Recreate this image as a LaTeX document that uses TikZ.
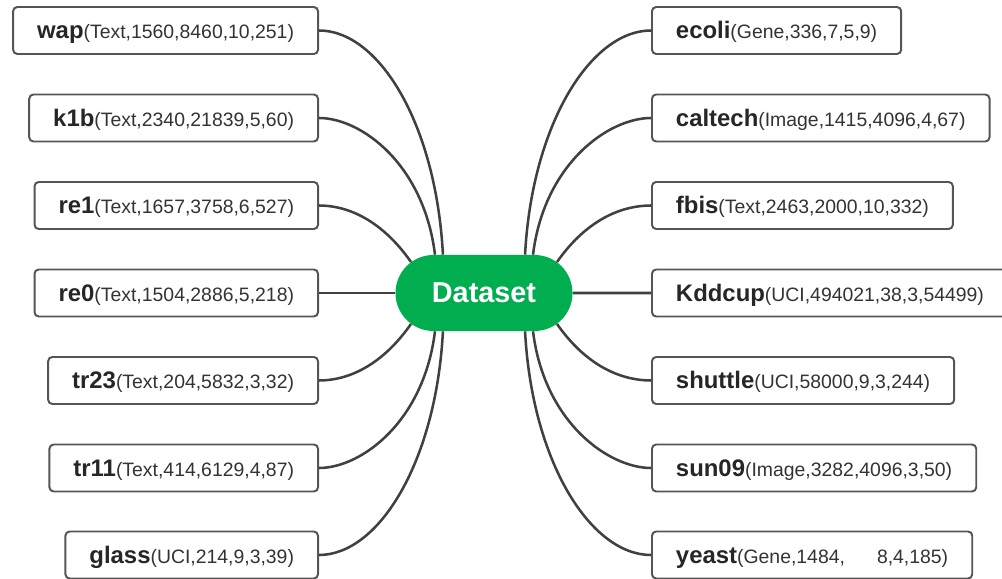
\documentclass[tikz,border=0pt]{standalone}
\usepackage{fontspec}
\setmainfont{Liberation Sans}
\usepackage{tikz}
\usetikzlibrary{shapes.misc, positioning}
\definecolor{dsgreen}{HTML}{00AD4F}
\definecolor{boxgray}{HTML}{555555}
\definecolor{linkgray}{HTML}{404040}
\definecolor{namedark}{HTML}{262626}
\definecolor{infodark}{HTML}{333333}
\newcommand{\dname}[1]{{\fontsize{17}{20}\selectfont\bfseries\color{namedark}#1}}
\newcommand{\dinfo}[1]{{\fontsize{13.8}{16}\selectfont\color{infodark}#1}}
\tikzset{
  leaf/.style={draw=boxgray, line width=1.4pt, rounded corners=3pt, fill=white,
               minimum height=1.175cm, inner xsep=0.6cm, inner ysep=0pt,
               text height=15pt, text depth=3.6pt},
  hub/.style={rounded rectangle, fill=dsgreen, text=white, minimum width=4.425cm,
              minimum height=1.9cm, inner sep=0pt, font=\fontsize{20.5}{24}\selectfont\bfseries},
  link/.style={draw=linkgray, line width=1.8pt, out looseness=0.6, in looseness=1.3},
}
\begin{document}
\begin{tikzpicture}[x=0.025cm, y=0.025cm]
  \useasboundingbox (0,0) rectangle (1002,579);
  \node[hub] (ds) at (484,286) {Dataset};
  % left side
  \foreach \n/\y/\a/\b in {wap/548.5/wap/{(Text,1560,8460,10,251)}, k1b/461/k1b/{(Text,2340,21839,5,60)},
      re1/373.5/re1/{(Text,1657,3758,6,527)}, re0/286/re0/{(Text,1504,2886,5,218)},
      tr23/198.5/tr23/{(Text,204,5832,3,32)}, tr11/111/tr11/{(Text,414,6129,4,87)},
      glass/24/glass/{(UCI,214,9,3,39)}} {
    \node[leaf, anchor=east] (\n) at (319,\y) {\dname{\a}\dinfo{\b}};
  }
  % right side
  \foreach \n/\y/\a/\b in {ecoli/548.5/ecoli/{(Gene,336,7,5,9)}, caltech/461/caltech/{(Image,1415,4096,4,67)},
      fbis/373.5/fbis/{(Text,2463,2000,10,332)}, kdd/286/Kddcup/{(UCI,494021,38,3,54499)},
      shuttle/198.5/shuttle/{(UCI,58000,9,3,244)}, sun09/111/sun09/{(Image,3282,4096,3,50)},
      yeast/24/yeast/{(Gene,1484,\hspace{0.8cm}8,4,185)}} {
    \node[leaf, anchor=west] (\n) at (651,\y) {\dname{\a}\dinfo{\b}};
  }
  \foreach \n/\ang/\in in {wap/137/93, k1b/142/97, re1/157/125, tr23/203/235, tr11/218/263, glass/223/267}
    \draw[link] (\n.east) to[out=0, in=\in] (ds.\ang);
  \foreach \n/\ang/\in in {ecoli/43/87, caltech/38/83, fbis/23/55, shuttle/337/305, sun09/322/277, yeast/317/273}
    \draw[link] (\n.west) to[out=180, in=\in] (ds.\ang);
  \draw[link] (re0) -- (ds);
  \draw[link] (kdd) -- (ds);
\end{tikzpicture}
\end{document}
